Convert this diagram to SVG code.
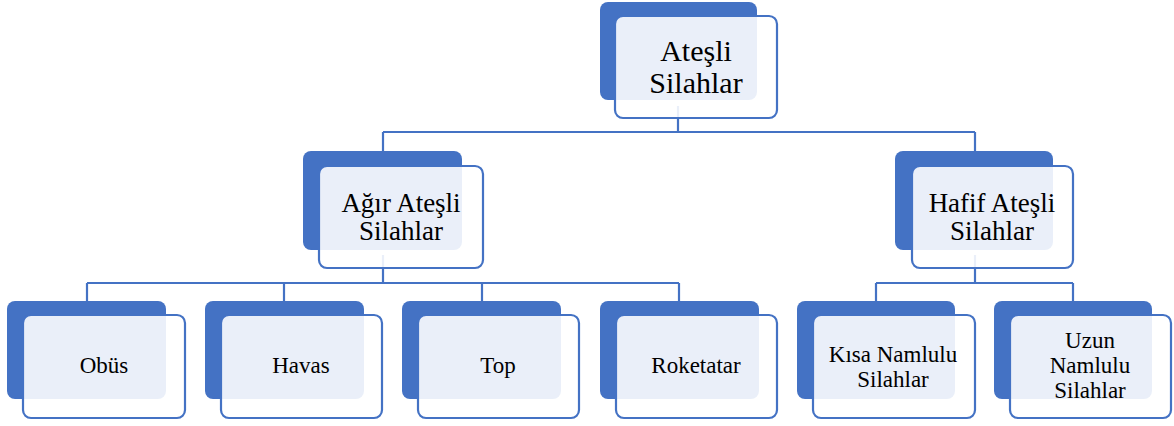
<svg xmlns="http://www.w3.org/2000/svg" width="1174" height="426" viewBox="0 0 1174 426">
<style>
.bk{fill:#4472C4}
.fr{fill:#ffffff;fill-opacity:0.89;stroke:#4472C4;stroke-width:2.2}
.cn{fill:none;stroke:#4472C4;stroke-width:2.2}
text{font-family:"Liberation Serif","Times New Roman",serif;fill:#000;text-anchor:middle}
.t1{font-size:30px}
.t2{font-size:27px}
.t3{font-size:23px}
</style>
<rect width="1174" height="426" fill="#ffffff"/>
<g id="connectors">
<path class="cn" d="M678,106 V132 M383,132 H975 M383,132 V152 M975,132 V152"/>
<path class="cn" d="M383,255 V283 M87,283 H679 M87,283 V302 M284,283 V302 M482,283 V302 M679,283 V302"/>
<path class="cn" d="M975,255 V283 M876,283 H1073 M876,283 V302 M1073,283 V302"/>
</g>
<g id="n-atesli">
<rect class="bk" x="600" y="2" width="157" height="98" rx="8"/>
<rect class="fr" x="615" y="16" width="162" height="102" rx="8"/>
<text class="t1" x="696" y="61">Ateşli</text>
<text class="t1" x="696" y="93">Silahlar</text>
</g>
<g id="n-agir">
<rect class="bk" x="303" y="151" width="159" height="99" rx="8"/>
<rect class="fr" x="319" y="166" width="164" height="102" rx="8"/>
<text class="t2" x="401" y="212">Ağır Ateşli</text>
<text class="t2" x="401" y="240">Silahlar</text>
</g>
<g id="n-hafif">
<rect class="bk" x="895" y="151" width="158" height="99" rx="8"/>
<rect class="fr" x="912" y="166" width="161" height="102" rx="8"/>
<text class="t2" x="992" y="212">Hafif Ateşli</text>
<text class="t2" x="992" y="240">Silahlar</text>
</g>
<g id="n-obus">
<rect class="bk" x="7" y="301" width="159" height="98" rx="8"/>
<rect class="fr" x="23" y="315" width="162" height="103" rx="8"/>
<text class="t3" x="104" y="373">Obüs</text>
</g>
<g id="n-havas">
<rect class="bk" x="205" y="301" width="159" height="98" rx="8"/>
<rect class="fr" x="221" y="315" width="161" height="103" rx="8"/>
<text class="t3" x="301" y="373">Havas</text>
</g>
<g id="n-top">
<rect class="bk" x="402" y="301" width="159" height="98" rx="8"/>
<rect class="fr" x="418" y="315" width="161" height="103" rx="8"/>
<text class="t3" x="498" y="373">Top</text>
</g>
<g id="n-roketatar">
<rect class="bk" x="600" y="301" width="159" height="98" rx="8"/>
<rect class="fr" x="616" y="315" width="161" height="103" rx="8"/>
<text class="t3" x="696" y="373">Roketatar</text>
</g>
<g id="n-kisa">
<rect class="bk" x="797" y="301" width="158" height="98" rx="8"/>
<rect class="fr" x="813" y="315" width="162" height="103" rx="8"/>
<text class="t3" x="893" y="362">Kısa Namlulu</text>
<text class="t3" x="893" y="387">Silahlar</text>
</g>
<g id="n-uzun">
<rect class="bk" x="994" y="301" width="158" height="98" rx="8"/>
<rect class="fr" x="1010" y="315" width="161" height="103" rx="8"/>
<text class="t3" x="1090" y="348">Uzun</text>
<text class="t3" x="1090" y="373">Namlulu</text>
<text class="t3" x="1090" y="398">Silahlar</text>
</g>
</svg>
